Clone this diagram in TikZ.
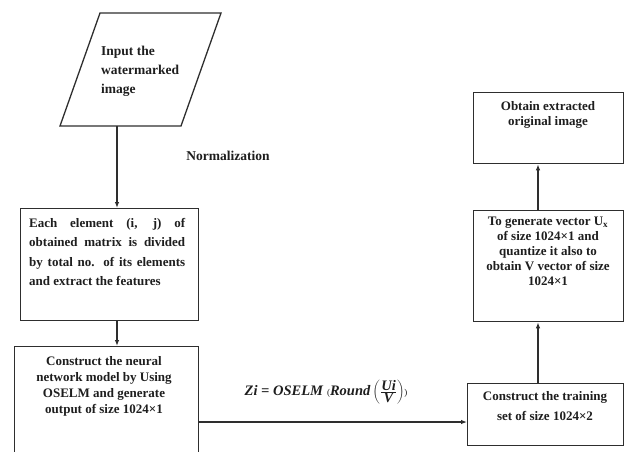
\documentclass[tikz,border=0pt]{standalone}
\usepackage{fontspec}
\setmainfont{Liberation Serif}
\usetikzlibrary{arrows.meta}
\definecolor{ln}{HTML}{2E2E2E}
\definecolor{tx}{HTML}{1E1E1E}
\newcommand{\fullline}[1]{\makebox[156pt][s]{#1}}
\tikzset{
  box/.style={draw=ln, line width=1.3pt, fill=none, inner sep=0pt},
  txt/.style={text=tx, font=\bfseries\fontsize{13}{15}\selectfont, align=center, inner sep=0pt},
  conn/.style={draw=ln, line width=1.1pt, -{Latex[length=6pt,width=4.5pt]}}
}
\begin{document}
\begin{tikzpicture}[x=1pt,y=-1pt]
\useasboundingbox (0,0) rectangle (629,451);
% parallelogram
\draw[box] (100,13) -- (221,13) -- (181,126) -- (60,126) -- cycle;
\coordinate (pin) at (117,126);
\node[txt, align=left, anchor=north west, font=\bfseries\fontsize{13.5}{19}\selectfont] (t1) at (101,46) {Input the\\watermarked\\image};
% boxes
\node[box, minimum width=178pt, minimum height=112pt, anchor=north west] (b2) at (20,208) {};
\node[txt, anchor=north west, align=left, font=\bfseries\fontsize{13}{19.5}\selectfont] (t2) at (29,218)
  {\fullline{Each element (i, j) of}\\\fullline{obtained matrix is divided}\\\fullline{by total no. of its elements}\\and extract the features};
\node[box, minimum width=184pt, minimum height=115pt, anchor=north west] (b3) at (14,346) {};
\node[txt, anchor=north, font=\bfseries\fontsize{13}{16}\selectfont] (t3) at (104,356)
  {Construct the neural\\network model by Using\\OSELM and generate\\output of size 1024\texttimes1};
\node[box, minimum width=156pt, minimum height=62pt, anchor=north west] (b4) at (467,383) {};
\node[txt, anchor=north, font=\bfseries\fontsize{13}{20}\selectfont] (t4) at (545,391)
  {Construct the training\\set of size 1024\texttimes2};
\node[box, minimum width=150pt, minimum height=111pt, anchor=north west] (b5) at (473,210) {};
\node[txt, anchor=north] (t5) at (548,217)
  {To generate vector U\textsubscript{x}\\of size 1024\texttimes1 and\\quantize it also to\\obtain V vector of size\\1024\texttimes1};
\node[box, minimum width=150pt, minimum height=71pt, anchor=north west] (b6) at (473,92) {};
\node[txt, anchor=north] (t6) at (548,101)
  {Obtain extracted\\original image};
% labels
\node[txt, font=\bfseries\fontsize{13.5}{15}\selectfont] (norm) at (228,156) {Normalization};
\node[txt, font=\bfseries\itshape\fontsize{14.5}{16}\selectfont] (formula) at (326,392)
  {Zi = OSELM \textnormal{\small(}Round\,$\left(\frac{\textbf{\textit{Ui}}}{\textbf{\textit{V}}}\right)$\textnormal{\small)}};
% connectors
\draw[conn] (pin) -- (pin |- b2.north);
\coordinate (c2) at (pin |- b2.south);
\draw[conn] (c2) -- (c2 |- b3.north);
\coordinate (c3) at (b3.east |- 0,422);
\draw[conn] (c3) -- (c3 -| b4.west);
\coordinate (c4) at (538,383);
\draw[conn] (c4) -- (c4 |- b5.south);
\coordinate (c5) at (538,210);
\draw[conn] (c5) -- (c5 |- b6.south);
\end{tikzpicture}
\end{document}
